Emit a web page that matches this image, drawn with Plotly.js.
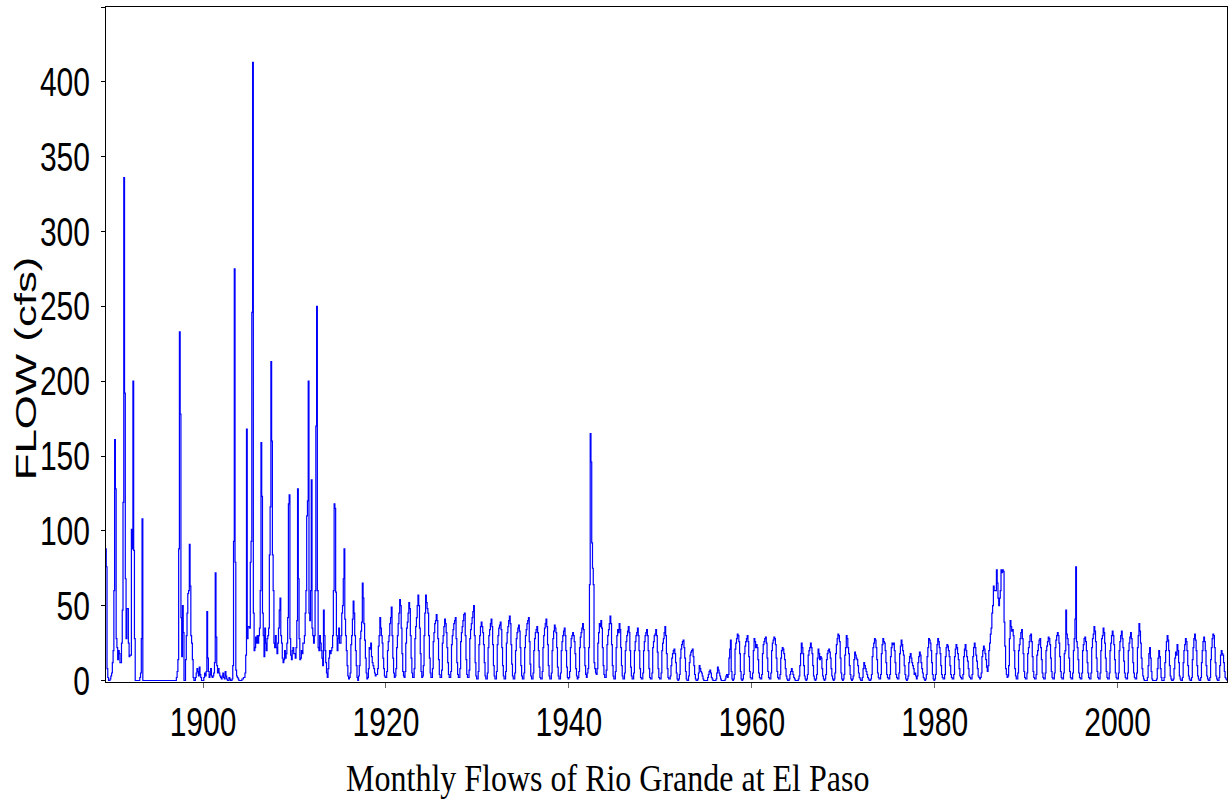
<!DOCTYPE html>
<html><head><meta charset="utf-8">
<script src="https://cdn.plot.ly/plotly-3.0.1.min.js"></script>
<style>html,body{margin:0;padding:0;background:#fff}#chart{width:1230px;height:801px}</style>
</head><body><div id="chart"></div>
<script>
// Monthly flows (cfs), one row per year Jan..Dec
const firstYear = 1889;
const flows1889to1915 = [
 [null,null,null,null,88,76,8,2,0,0,1,3],
 [5,12,20,60,161,128,28,22,14,20,18,12],
 [12,25,47,119,336,192,68,28,48,48,25,16],
 [17,17,101,88,200,87,28,0,0,0,0,0],
 [0,2,5,28,108,0,0,0,0,0,0,0],
 [0,0,0,0,0,0,0,0,0,0,0,0],
 [0,0,0,0,0,0,0,0,0,0,0,0],
 [0,0,0,0,0,0,0,0,0,0,0,0],
 [0,2,6,14,88,233,178,42,16,50,32,0],
 [0,14,30,45,58,60,91,63,30,25,14,2],
 [0,0,2,5,8,6,3,9,4,2,0,0],
 [0,2,5,3,6,46,15,6,2,4,8,3],
 [2,3,5,12,72,29,10,5,8,5,3,2],
 [1,3,5,2,1,6,3,1,0,0,2,1],
 [0,0,1,10,93,275,79,7,3,2,1,0],
 [0,0,0,1,1,2,2,5,17,168,28,36],
 [36,35,79,93,246,413,45,20,22,29,25,30],
 [25,30,35,60,159,123,45,30,16,35,25,20],
 [28,30,35,84,116,213,160,84,60,25,22,30],
 [22,18,25,35,47,55,30,25,15,12,14,20],
 [15,18,25,42,118,124,28,17,14,20,22,18],
 [18,15,22,40,128,68,28,14,15,20,18,25],
 [25,30,45,60,110,120,200,45,40,60,134,35],
 [30,25,30,60,170,250,60,22,20,30,25,20],
 [15,10,47,30,20,12,5,2,8,15,20,18],
 [20,22,30,60,118,115,59,30,20,28,35,25],
 [25,30,45,50,68,88,41,30,20,10,3,1]
];
const flows1916to1950 = [
 [2,5,24,30,41,53,45,30,20,10,2,0],
 [3,10,28,33,39,65,55,38,27,15,5,1],
 [2,8,22,21,25,16,12,10,8,5,3,4],
 [4,8,23,30,42,35,30,25,15,8,3,2],
 [2,6,20,26,30,38,42,49,30,15,5,2],
 [3,8,22,30,38,45,54,50,35,18,6,3],
 [2,6,25,35,39,45,52,48,30,15,5,2],
 [2,8,28,36,42,50,57,50,35,18,6,2],
 [3,10,30,45,57,52,48,45,30,15,5,2],
 [2,8,26,32,38,40,44,40,28,14,4,2],
 [2,7,25,30,36,41,38,32,22,12,4,2],
 [2,6,24,30,34,38,40,42,28,12,4,2],
 [2,8,26,32,36,40,44,45,30,14,4,2],
 [2,7,28,34,38,42,46,50,30,12,3,1],
 [1,6,24,30,36,39,36,32,24,12,3,1],
 [1,5,22,30,34,38,41,36,24,10,3,1],
 [1,6,24,30,35,37,39,34,22,10,3,1],
 [1,6,25,32,36,40,43,38,24,11,3,1],
 [1,5,20,28,32,35,37,33,22,10,3,1],
 [1,5,22,30,34,38,40,42,26,11,3,1],
 [1,5,20,28,32,34,36,32,20,9,2,1],
 [1,6,22,30,35,38,41,36,24,10,3,1],
 [1,5,20,28,33,37,35,32,22,9,3,1],
 [1,5,20,26,30,33,35,30,20,9,2,1],
 [2,6,22,28,30,32,30,26,18,8,3,1],
 [2,6,22,29,32,35,38,34,22,10,4,2],
 [5,8,22,64,165,146,92,75,64,12,8,5],
 [4,8,25,32,38,36,40,35,22,10,4,2],
 [2,7,24,30,34,38,43,38,24,10,3,1],
 [1,6,22,30,34,32,38,34,22,10,3,1],
 [1,5,20,26,30,33,36,32,20,9,3,1],
 [1,5,20,26,30,32,35,30,20,8,2,1],
 [1,5,20,26,30,32,34,30,20,8,2,1],
 [1,5,22,26,30,31,34,30,19,8,2,1],
 [1,5,20,25,28,32,36,30,18,8,2,1]
];
const flows1951to1985 = [
 [1,3,10,15,18,20,21,18,12,5,1,0],
 [1,4,15,21,24,26,27,22,15,6,1,0],
 [0,3,12,17,19,20,21,16,10,4,1,0],
 [0,1,5,10,8,6,5,3,1,0,0,0],
 [0,0,2,4,6,7,5,2,1,0,0,0],
 [0,1,5,9,7,5,3,1,0,0,0,0],
 [0,1,3,4,2,4,15,21,27,6,1,0],
 [1,4,21,25,28,31,30,26,18,6,1,0],
 [1,4,18,23,26,28,30,26,16,6,2,1],
 [1,5,20,28,26,22,24,22,14,5,2,1],
 [1,4,18,24,26,28,29,25,15,6,2,1],
 [1,5,20,25,27,29,28,24,15,6,2,1],
 [1,4,15,20,22,21,18,14,8,3,1,0],
 [0,1,4,6,8,6,4,2,1,0,0,0],
 [0,1,3,10,18,25,22,18,10,3,1,0],
 [1,4,17,20,22,25,22,18,10,3,1,0],
 [1,4,15,21,18,14,16,15,8,3,1,0],
 [1,4,14,18,20,21,19,15,8,3,1,0],
 [1,5,18,24,28,31,30,26,15,5,1,0],
 [1,4,17,22,30,28,22,18,10,4,1,0],
 [1,3,14,19,17,15,14,10,5,2,1,0],
 [0,2,8,12,10,8,6,4,2,1,0,0],
 [1,4,16,22,25,28,27,22,14,5,2,1],
 [1,4,18,24,28,26,25,20,12,4,2,1],
 [1,4,16,22,25,24,25,20,12,4,2,1],
 [1,5,18,23,27,24,20,17,10,4,1,0],
 [1,3,12,16,18,15,12,10,8,4,5,3],
 [1,3,12,16,19,17,12,8,5,2,1,0],
 [1,4,16,22,28,27,25,20,12,4,1,0],
 [1,4,18,24,28,26,22,18,10,4,2,1],
 [1,4,16,22,24,23,20,16,10,4,2,1],
 [1,4,16,21,24,22,18,14,8,3,2,1],
 [1,4,16,21,24,20,16,13,8,3,2,1],
 [1,4,16,22,25,22,17,13,8,3,2,1],
 [2,5,16,20,23,21,18,14,9,6,10,20]
];
const flows1986to2011 = [
 [25,31,35,45,50,63,60,60,60,74,65,55],
 [50,55,60,74,72,74,73,39,23,8,4,2],
 [3,10,28,40,36,33,34,30,20,8,3,1],
 [1,5,20,24,28,32,34,28,18,6,2,1],
 [1,5,18,22,26,30,31,26,16,6,2,1],
 [1,4,17,20,24,27,28,22,14,5,2,1],
 [1,5,20,23,26,29,28,24,15,6,2,1],
 [1,5,22,27,30,32,30,25,16,6,2,1],
 [1,5,18,20,47,31,28,24,15,6,2,1],
 [1,5,20,28,41,76,26,22,14,5,2,1],
 [1,5,20,24,28,29,26,20,12,5,2,1],
 [1,5,22,28,31,36,33,26,15,6,2,1],
 [1,5,20,28,30,35,32,25,15,6,2,1],
 [1,5,20,25,30,33,30,24,14,5,2,1],
 [1,5,20,26,30,33,28,22,13,5,2,1],
 [1,5,20,25,29,32,28,22,12,5,2,1],
 [1,5,22,30,38,33,25,15,8,3,1,0],
 [0,0,0,2,10,18,22,15,6,1,0,0],
 [0,0,0,1,8,15,20,16,8,2,0,0],
 [0,2,12,20,26,30,27,20,10,3,1,0],
 [0,1,8,15,19,17,24,20,12,3,1,0],
 [0,2,12,20,24,28,26,20,10,3,1,0],
 [0,2,14,22,28,31,27,20,10,3,1,0],
 [0,2,12,20,26,29,26,20,10,3,1,0],
 [0,2,14,22,28,31,30,22,12,3,1,0],
 [0,2,10,17,20,18,17,12,6,2,1,0]
];
const xTickYears = [1900, 1920, 1940, 1960, 1980, 2000];
const yTickValues = [0, 50, 100, 150, 200, 250, 300, 350, 400, 450];
const yTickLabels = ['0', '50', '100', '150', '200', '250', '300', '350', '400', ''];
const chartTitle = 'Monthly Flows of Rio Grande at El Paso';
const yTitle = 'FLOW (cfs)';

const rows = [].concat(flows1889to1915, flows1916to1950, flows1951to1985, flows1986to2011);
const xs = [], ys = [];
rows.forEach((row, i) => row.forEach((v, m) => {
  if (v !== null) { xs.push(firstYear + i + m / 12); ys.push(v); }
}));

const sans = 'Liberation Sans, Arial, sans-serif';
const trace = {
  x: xs, y: ys, type: 'scatter', mode: 'lines',
  line: {color: '#0000ff', width: 1.2, shape: 'hv'},
  hoverinfo: 'skip'
};
const layout = {
  width: 1230, height: 801,
  margin: {l: 106, r: 3, t: 7, b: 119},
  paper_bgcolor: '#fff', plot_bgcolor: '#fff',
  showlegend: false,
  xaxis: {
    range: [1889.39, 2011.96], tickvals: xTickYears, ticktext: xTickYears.map(String),
    ticks: 'outside', ticklen: 5, tickcolor: '#666', tickwidth: 1,
    showline: true, linecolor: '#000', linewidth: 1, mirror: true,
    showgrid: false, zeroline: false, layer: 'below traces',
    tickfont: {family: sans, size: 40, color: '#000'},
    ticklabelstandoff: 0
  },
  yaxis: {
    range: [-1, 450], tickvals: yTickValues, ticktext: yTickLabels,
    ticks: 'outside', ticklen: 4, tickcolor: '#000', tickwidth: 1,
    showline: true, linecolor: '#000', linewidth: 1, mirror: true,
    showgrid: false, zeroline: false, layer: 'below traces',
    tickfont: {family: sans, size: 40, color: '#000'},
    ticklabelstandoff: 3
  },
  annotations: [
    {text: chartTitle, xref: 'paper', yref: 'paper', x: 0.448, y: -0.142,
     xanchor: 'center', yanchor: 'middle', showarrow: false,
     font: {family: 'Liberation Serif, Times New Roman, serif', size: 32, color: '#000'}},
    {text: yTitle, xref: 'paper', yref: 'paper', x: -0.0723, y: 0.465, textangle: -90,
     xanchor: 'center', yanchor: 'middle', showarrow: false,
     font: {family: sans, size: 30, color: '#000'}}
  ]
};

function stretch(el, sx, sy, dy) {
  const x = parseFloat(el.getAttribute('x')) || 0;
  const y = (parseFloat(el.getAttribute('y')) || 0) + (dy || 0);
  const old = el.getAttribute('transform') || '';
  el.setAttribute('transform', old + ' translate(' + x + ',' + y + ') scale(' + sx + ',' + sy + ') translate(' + (-x) + ',' + (-y) + ')');
}

Plotly.newPlot('chart', [trace], layout, {displayModeBar: false, staticPlot: true}).then(gd => {
  gd.querySelectorAll('.xtick text, .ytick text').forEach(t => stretch(t, 0.75, 1));
  const ann = gd.querySelectorAll('.annotation-text');
  if (ann[0]) stretch(ann[0], 1, 1.18, -11);
  if (ann[1]) stretch(ann[1], 1.46, 1);
});
</script></body></html>
